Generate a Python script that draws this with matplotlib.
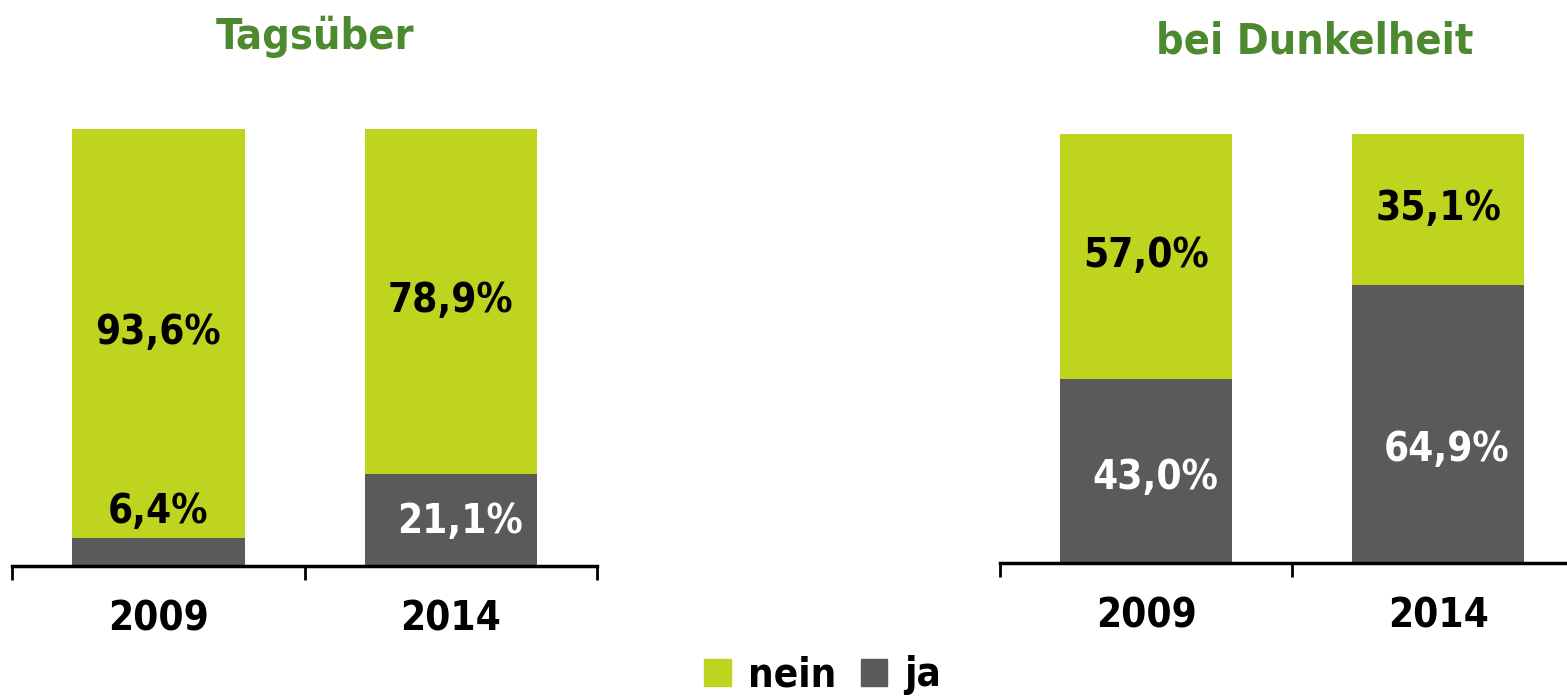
import matplotlib
matplotlib.use('Agg')
import matplotlib.pyplot as plt
from matplotlib.patches import Patch
import numpy as np

# Daten
jahre = ['2009', '2014']
tag_ja = [6.4, 21.1]
tag_nein = [93.6, 78.9]
dunkel_ja = [43.0, 64.9]
dunkel_nein = [57.0, 35.1]

GRUEN = '#bfd41f'
GRAU = '#5a5a5a'
TITEL = '#4d8a2f'
FONT = ['DejaVu Sans Condensed', 'Liberation Sans Narrow', 'DejaVu Sans']

plt.rcParams['font.family'] = FONT
plt.rcParams['font.weight'] = 'bold'
plt.rcParams['font.stretch'] = 'condensed'

fig = plt.figure(figsize=(15.67, 6.99), dpi=100)


def panel(rect, ja, nein, ja_offset):
    ax = fig.add_axes(rect)
    x = np.arange(len(jahre))
    ax.bar(x, ja, width=0.59, color=GRAU)
    ax.bar(x, nein, bottom=ja, width=0.59, color=GRUEN)
    ax.set_xlim(-0.5, 1.5)
    ax.set_ylim(0, 100)
    for s in ['top', 'right', 'left']:
        ax.spines[s].set_visible(False)
    ax.spines['bottom'].set_linewidth(2.5)
    ax.set_yticks([])
    ax.set_xticks([-0.5, 0.5, 1.5])
    ax.set_xticklabels([])
    ax.tick_params(axis='x', which='major', direction='out', length=10, width=2)
    ax.set_xticks(x, minor=True)
    ax.set_xticklabels(jahre, minor=True)
    ax.tick_params(axis='x', which='minor', length=0, pad=24, labelsize=29)
    for i in range(len(jahre)):
        # Beschriftung nein
        ax.text(x[i], ja[i] + nein[i] / 2, f'{nein[i]:.1f}%'.replace('.', ','),
                ha='center', va='center', fontsize=29, fontweight='bold', color='black')
        # Beschriftung ja
        if ja[i] < 10:
            ax.text(x[i], ja[i] + 6, f'{ja[i]:.1f}%'.replace('.', ','),
                    ha='center', va='center', fontsize=29, fontweight='bold', color='black')
        else:
            ax.text(x[i] + 0.03, ja[i] / 2 + ja_offset[i], f'{ja[i]:.1f}%'.replace('.', ','),
                    ha='center', va='center', fontsize=29, fontweight='bold', color='white')
    return ax


panel([0.0077, 0.1903, 0.3733, 0.6252], tag_ja, tag_nein, [0, -0.4])
panel([0.6382, 0.1946, 0.3727, 0.6137], dunkel_ja, dunkel_nein, [-1.7, -6.1])

fig.text(0.201, 0.948, 'Tagsüber', ha='center', va='center', fontsize=31,
         fontweight='bold', color=TITEL)
fig.text(0.839, 0.941, 'bei Dunkelheit', ha='center', va='center', fontsize=31,
         fontweight='bold', color=TITEL)

handles = [Patch(color=GRUEN, label='nein'), Patch(color=GRAU, label='ja')]
fig.legend(handles=handles, loc='center', bbox_to_anchor=(0.525, 0.034), ncol=2,
           frameon=False, fontsize=29, handlelength=0.65, handleheight=0.65,
           handletextpad=0.42, columnspacing=0.62, borderpad=0, borderaxespad=0)

fig.savefig('out.png', dpi=100)
